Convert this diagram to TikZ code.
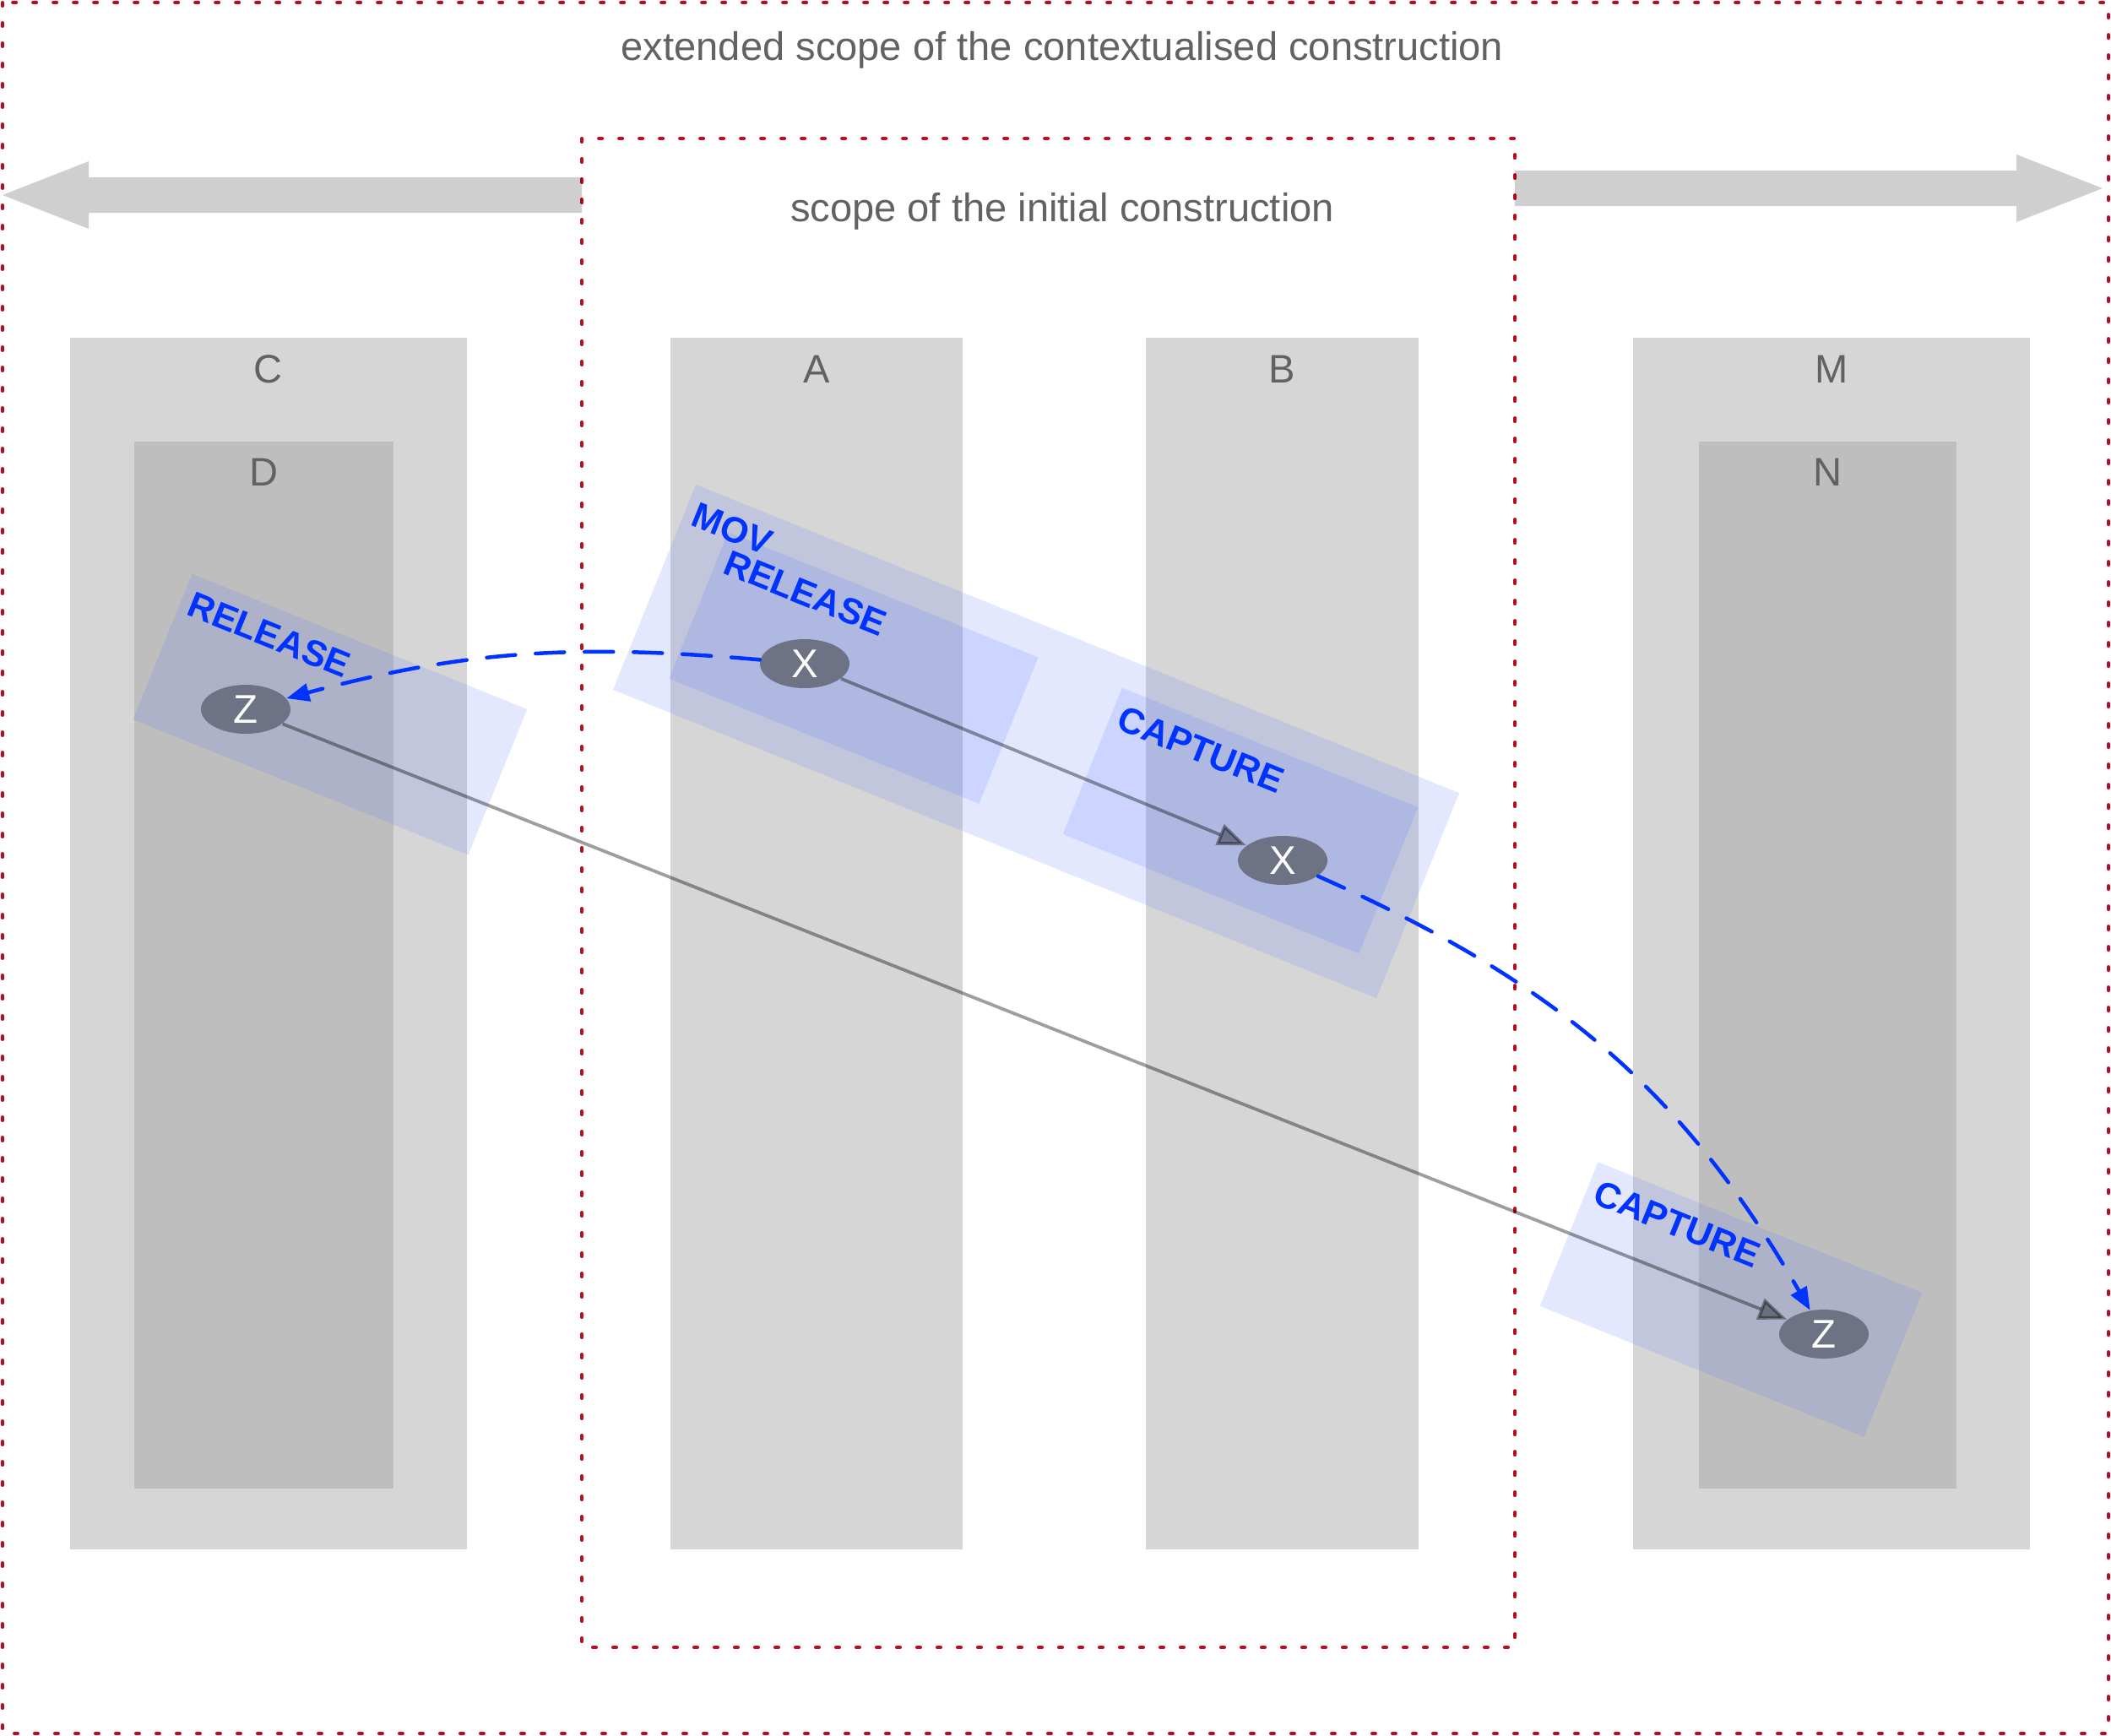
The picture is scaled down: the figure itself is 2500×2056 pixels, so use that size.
\documentclass[tikz,border=0pt]{standalone}
\usepackage{fontspec}
\setmainfont{Liberation Sans}
\usetikzlibrary{arrows.meta,shapes.geometric}
\definecolor{scopered}{HTML}{BE0A1E}
\definecolor{colgrey}{HTML}{D6D6D6}
\definecolor{subgrey}{HTML}{BEBEBE}
\definecolor{labgrey}{HTML}{626262}
\definecolor{phaseblue}{HTML}{5A78FF}
\definecolor{txtblue}{HTML}{0033FF}
\definecolor{tokgrey}{HTML}{6E7285}
\tikzset{
  sframe/.style={draw=scopered, line width=0.4mm, line cap=round,
                 dash pattern=on 0.4mm off 2mm},
  scolumn/.style={fill=colgrey},
  ssub/.style={fill=subgrey},
  sextend/.style={fill=black, fill opacity=0.19},
  slabel/.style={text=labgrey, font=\fontsize{13.4}{16}\selectfont,
                 inner sep=0pt, anchor=base},
  sphase/.style={fill=phaseblue, fill opacity=0.17, rotate=-22,
                 inner sep=0pt},
  sphaselabel/.style={text=txtblue, font=\bfseries\fontsize{12.2}{14}\selectfont,
                      rotate=-22, anchor=north west, inner xsep=3pt, inner ysep=5pt},
  stoken/.style={ellipse, fill=tokgrey, text=white, minimum width=10.6mm,
                 minimum height=5.8mm, inner sep=0pt,
                 font=\fontsize{13.5}{15}\selectfont},
  sflow/.style={draw=black, opacity=0.38, line width=0.38mm,
                -{Triangle[length=3.4mm,width=2.6mm]}},
  smove/.style={draw=txtblue, line width=0.45mm, line cap=round,
                dash pattern=on 3.4mm off 2.4mm,
                -{Triangle[length=2.7mm,width=2.1mm]}},
}

\begin{document}
\begin{tikzpicture}[x=0.1mm,y=-0.1mm]
\useasboundingbox (0,0) rectangle (2500,2056);
\fill[scolumn] (83,400) rectangle (553,1835);
\fill[scolumn] (794,400) rectangle (1140,1835);
\fill[scolumn] (1357,400) rectangle (1680,1835);
\fill[scolumn] (1934,400) rectangle (2404,1835);
\fill[ssub] (159,523) rectangle (466,1763);
\fill[ssub] (2012,523) rectangle (2317,1763);
\node[slabel] (lc) at (318,453) {C};
\node[slabel] (la) at (967,453) {A};
\node[slabel] (lb) at (1518,453) {B};
\node[slabel] (lm) at (2169,453) {M};
\node[slabel] (ld) at (313,575) {D};
\node[slabel] (ln) at (2164,575) {N};
\draw[sframe] (3,3) rectangle (2497,2053);
\draw[sframe] (689,164) rectangle (1794,1951);
\node[slabel] (ext) at (1258,71) {extended scope of the contextualised construction};
\node[slabel] (ini) at (1258,262) {scope of the initial construction};
\fill[sextend] (689,210) -- (105,210) -- (105,191) -- (3,231) -- (105,271)
  -- (105,252) -- (689,252) -- cycle;
\fill[sextend] (1794,202) -- (2388,202) -- (2388,183) -- (2490,223) -- (2388,263)
  -- (2388,244) -- (1794,244) -- cycle;
\node[sphase, minimum width=97.5mm, minimum height=26.2mm] (mov) at (1227,878) {};
\node[sphase, minimum width=39.6mm, minimum height=18.7mm] (rela) at (1011,791) {};
\node[sphase, minimum width=37.8mm, minimum height=18.7mm] (capb) at (1469,972) {};
\node[sphase, minimum width=42.8mm, minimum height=18.6mm] (relz) at (391,846) {};
\node[sphase, minimum width=41.4mm, minimum height=18.4mm] (capz) at (2050,1539) {};
\node[sphaselabel] at (mov.north west) {MOV};
\node[sphaselabel] at (rela.north west) {RELEASE};
\node[sphaselabel] at (capb.north west) {CAPTURE};
\node[sphaselabel] at (relz.north west) {RELEASE};
\node[sphaselabel] at (capz.north west) {CAPTURE};
\node[stoken] (xa) at (953,786) {X};
\node[stoken] (xb) at (1519,1019) {X};
\node[stoken] (zc) at (291,840) {Z};
\node[stoken] (zm) at (2160,1580) {Z};
\draw[sflow] (xa) -- (xb);
\draw[sflow] (zc) -- (zm);
\draw[smove] (xa) to[out=175,in=15] (zc);
\draw[smove] (xb) to[out=-24,in=120] (zm);
\end{tikzpicture}
\end{document}
